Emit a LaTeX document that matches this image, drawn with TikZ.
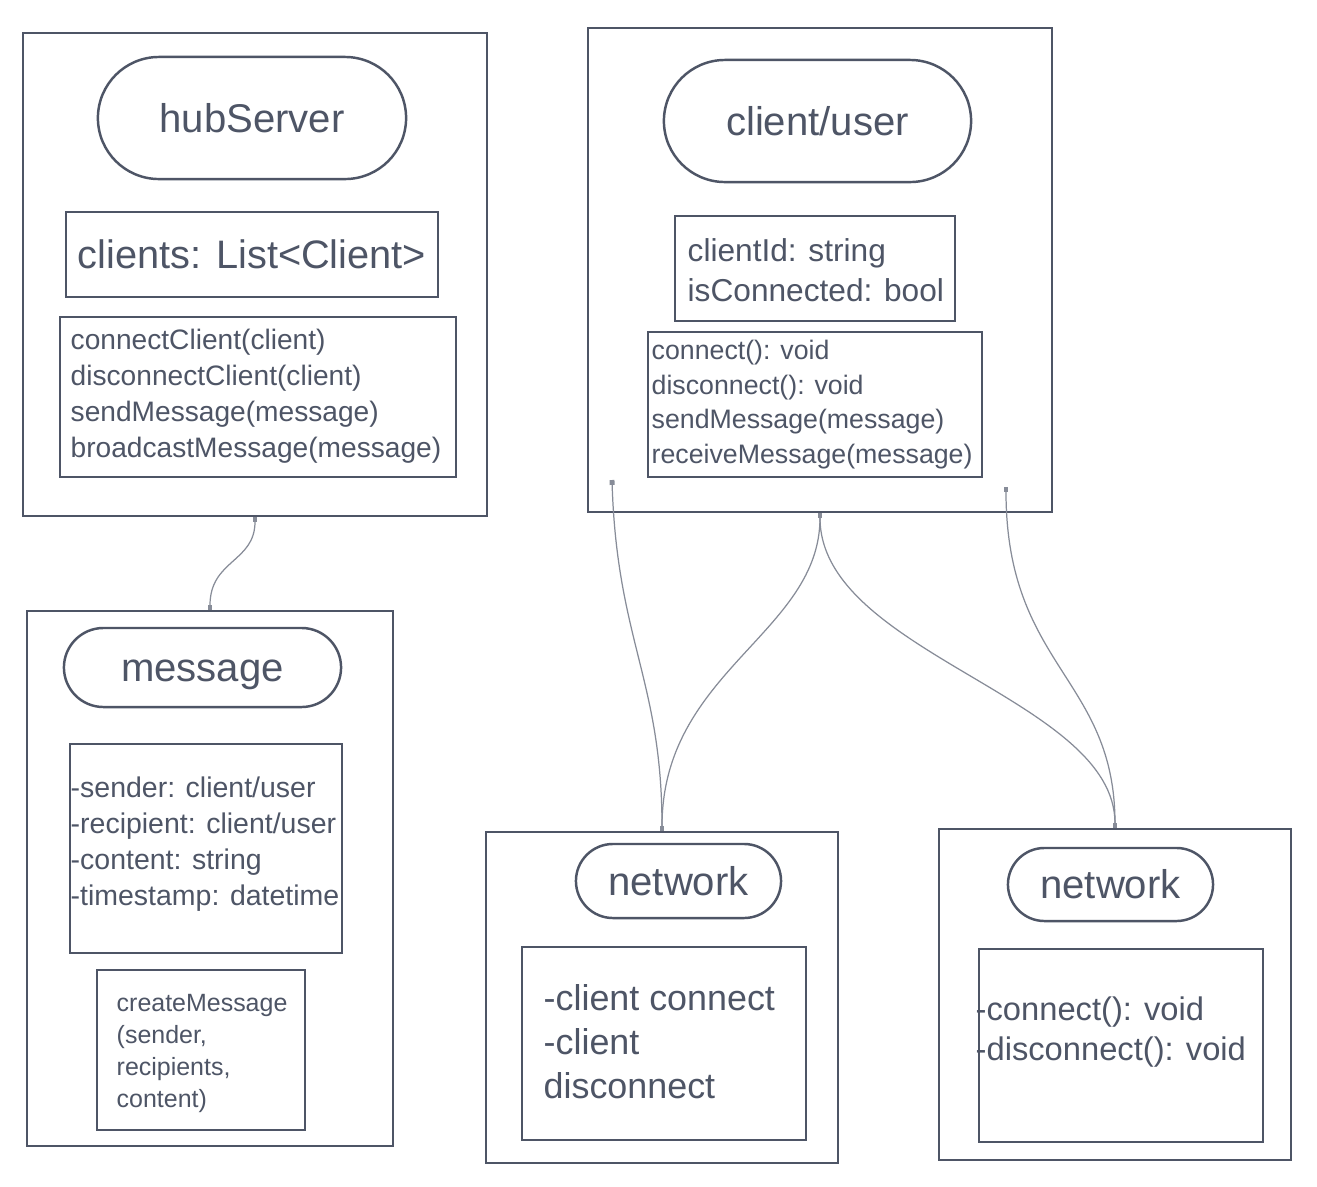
\documentclass[tikz,border=0pt]{standalone}
\usepackage{fontspec}
\setmainfont{Liberation Sans}
\usetikzlibrary{arrows.meta,shapes.misc}
\definecolor{slateink}{RGB}{78,85,102}
\definecolor{slatewire}{RGB}{135,140,152}

\begin{document}
\begin{tikzpicture}[x=0.01cm,y=-0.01cm,frame/.style={draw=slateink,line width=.7pt,inner sep=0pt},pill/.style={draw=slateink,line width=.7pt,rounded rectangle,inner sep=0pt,text=slateink,text height=.81em,text depth=0pt,font=\fontsize{11.4}{13}\selectfont},field/.style={draw=slateink,line width=.6pt,inner sep=0pt,text=slateink},txt/.style={anchor=west,align=left,inner sep=0pt,text=slateink},link/.style={draw=slatewire,line width=.35pt,{Square[length=1.4pt,width=1.4pt]}-{Square[length=1.4pt,width=1.4pt]}}]

\path[use as bounding box,fill=white] (0,0) rectangle (1317,1187);

% hubServer
\node[frame,minimum width=4.64cm,minimum height=4.83cm] (hub) at (255,274.5) {};
\node[pill,minimum width=3.08cm,minimum height=1.22cm] (hubName) at (252,118) {hubServer};
\node[field,minimum width=3.72cm,minimum height=.85cm,font=\fontsize{11.3}{13}\selectfont] (hubAttr) at (252,254.5) {clients: List<Client>};
\node[field,minimum width=3.96cm,minimum height=1.6cm] (hubOps) at (258,397) {};
\node[txt,font=\fontsize{8}{10.2}\selectfont] (hubOpsText) at (70,396) {connectClient(client)\\disconnectClient(client)\\sendMessage(message)\\broadcastMessage(message)};

% client/user
\node[frame,minimum width=4.64cm,minimum height=4.84cm] (client) at (820,270) {};
\node[pill,minimum width=3.07cm,minimum height=1.22cm] (clientName) at (817.5,121) {client/user};
\node[field,minimum width=2.8cm,minimum height=1.05cm] (clientAttr) at (815,268.5) {};
\node[txt,font=\fontsize{9}{11.4}\selectfont] (clientAttrText) at (687,270) {clientId: string\\isConnected: bool};
\node[field,minimum width=3.34cm,minimum height=1.45cm] (clientOps) at (815,404.5) {};
\node[txt,font=\fontsize{7.6}{9.8}\selectfont] (clientOpsText) at (651,404.5) {connect(): void\\disconnect(): void\\sendMessage(message)\\receiveMessage(message)};
\coordinate (clientL) at (612,480);
\coordinate (clientR) at (1006,487);

% message
\node[frame,minimum width=3.66cm,minimum height=5.35cm] (msg) at (210,878.5) {};
\node[pill,minimum width=2.77cm,minimum height=.79cm] (msgName) at (202.5,667.5) {message};
\node[field,minimum width=2.72cm,minimum height=2.09cm] (msgAttr) at (206,848.5) {};
\node[txt,font=\fontsize{8.1}{10.2}\selectfont] (msgAttrText) at (70,844) {-sender: client/user\\-recipient: client/user\\-content: string\\-timestamp: datetime};
\node[field,minimum width=2.08cm,minimum height=1.6cm] (msgOps) at (201,1050) {};
\node[txt,font=\fontsize{7.1}{9.1}\selectfont] (msgOpsText) at (116,1053) {createMessage\\(sender,\\recipients,\\content)};

% network (left)
\node[frame,minimum width=3.52cm,minimum height=3.31cm] (netA) at (662,997.5) {};
\node[pill,minimum width=2.05cm,minimum height=.74cm] (netAName) at (678.5,881) {network};
\node[field,minimum width=2.84cm,minimum height=1.93cm] (netAOps) at (664,1043.5) {};
\node[txt,font=\fontsize{10.2}{12.5}\selectfont] (netAOpsText) at (543,1042) {-client connect\\-client\\disconnect};

% network (right)
\node[frame,minimum width=3.52cm,minimum height=3.31cm] (netB) at (1115,994.5) {};
\node[pill,minimum width=2.05cm,minimum height=.73cm] (netBName) at (1110.5,884.5) {network};
\node[field,minimum width=2.84cm,minimum height=1.93cm] (netBOps) at (1121,1045.5) {};
\node[txt,font=\fontsize{9.3}{11.4}\selectfont] (netBOpsText) at (975,1032) {-connect(): void\\-disconnect(): void};

% connectors
\draw[link] (hub.south) .. controls +(0,45) and +(0,-50) .. (msg.north);
\draw[link] (clientL) .. controls +(5,160) and +(0,-150) .. (netA.north);
\draw[link] (client.south) .. controls +(0,120) and +(0,-160) .. (netA.north);
\draw[link] (client.south) .. controls +(0,140) and +(0,-130) .. (netB.north);
\draw[link] (clientR) .. controls +(0,180) and +(0,-150) .. (netB.north);
\end{tikzpicture}
\end{document}
